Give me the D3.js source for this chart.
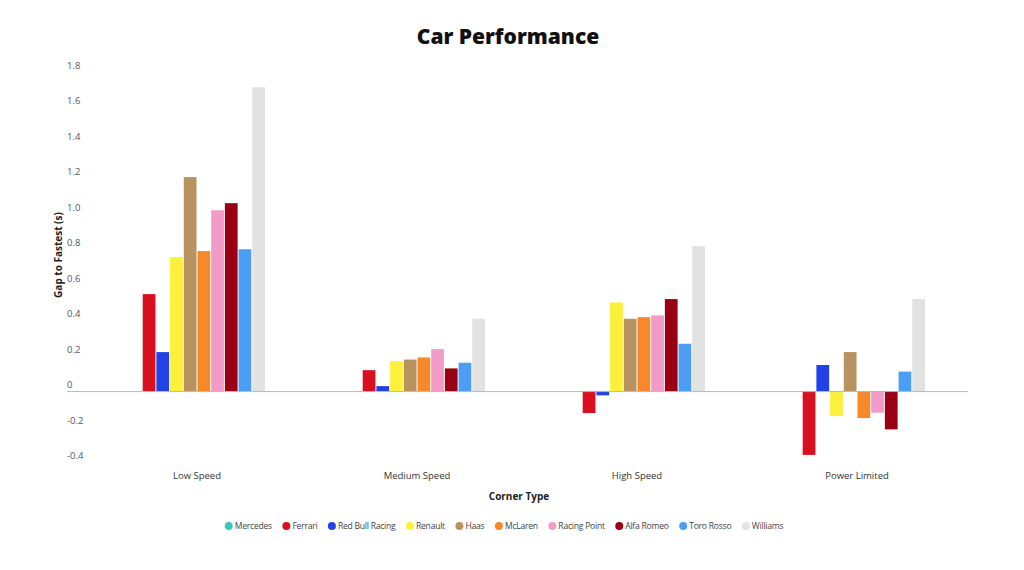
<!DOCTYPE html>
<html><head><meta charset="utf-8">
<script src="https://cdn.jsdelivr.net/npm/d3@7"></script>
<style>body{margin:0;background:#fff;} svg{display:block;font-family:"Open Sans",sans-serif;}</style>
</head><body><svg id="c" width="1024" height="570"></svg>
<script>
const categories = ["Low Speed", "Medium Speed", "High Speed", "Power Limited"];
const teams = ["Mercedes","Ferrari","Red Bull Racing","Renault","Haas","McLaren","Racing Point","Alfa Romeo","Toro Rosso","Williams"];
const colors = ["#3cc8b8","#d8101f","#2142e6","#fdf03a","#b8925f","#f7892a","#f29bc8","#9a0013","#4c9ef5","#e2e2e2"];
// values per team, in category order
const mercedes    = [0, 0, 0, 0];
const ferrari     = [0.547, 0.118, -0.124, -0.36];
const redBull     = [0.22, 0.028, -0.024, 0.147];
const renault     = [0.756, 0.169, 0.50, -0.141];
const haas        = [1.207, 0.178, 0.408, 0.22];
const mclaren     = [0.79, 0.19, 0.417, -0.152];
const racingPoint = [1.02, 0.237, 0.427, -0.122];
const alfaRomeo   = [1.06, 0.128, 0.519, -0.216];
const toroRosso   = [0.80, 0.16, 0.267, 0.11];
const williams    = [1.714, 0.408, 0.818, 0.52];
const series = [mercedes, ferrari, redBull, renault, haas, mclaren, racingPoint, alfaRomeo, toroRosso, williams];
const yTicks = [-0.4,-0.2,0,0.2,0.4,0.6,0.8,1.0,1.2,1.4,1.6,1.8];
const yTickLabels = ["-0.4","-0.2","0","0.2","0.4","0.6","0.8","1.0","1.2","1.4","1.6","1.8"];

const svg = d3.select("#c");
const x0 = d3.scaleBand().domain(categories).range([87, 967]).padding(0);
const groupW = 136;
const x1 = d3.scaleBand().domain(teams).range([0, groupW]).paddingInner(0.07).paddingOuter(0);
const y = d3.scaleLinear().domain([-0.4, 1.8]).range([462, 72]);

// title
svg.append("text").attr("x", 508).attr("y", 44).attr("text-anchor","middle")
  .attr("font-size", 21).attr("font-weight", 800).attr("fill", "#111").attr("letter-spacing", "0")
  .text("Car Performance");

// y tick labels
svg.append("g").selectAll("text").data(yTicks).join("text")
  .attr("x", 67).attr("y", d => y(d) - 3)
  .attr("font-size", 9.5).attr("fill", "#555")
  .text((d,i) => yTickLabels[i]);

// y title
svg.append("text").attr("transform", "translate(62,255) rotate(-90)")
  .attr("text-anchor","middle").attr("font-size", 10).attr("font-weight", 700).attr("fill","#222")
  .text("Gap to Fastest (s)");

// bars
const bars = [];
categories.forEach((c, ci) => teams.forEach((t, ti) => bars.push({c, t, v: series[ti][ci], col: colors[ti]})));
const off = (x0.bandwidth() - groupW) / 2;
svg.append("g").selectAll("rect").data(bars.filter(d => d.v !== 0)).join("rect")
  .attr("x", d => x0(d.c) + off + x1(d.t))
  .attr("width", x1.bandwidth())
  .attr("y", d => y(Math.max(0, d.v)))
  .attr("height", d => Math.abs(y(d.v) - y(0)))
  .attr("fill", d => d.col);

// zero line
svg.append("line").attr("x1", 67).attr("x2", 968).attr("y1", y(0)+0.5).attr("y2", y(0)+0.5)
  .attr("stroke", "#7ecfd6").attr("stroke-width", 1);

// x category labels
svg.append("g").selectAll("text").data(categories).join("text")
  .attr("x", d => x0(d) + x0.bandwidth()/2).attr("y", 479).attr("text-anchor","middle")
  .attr("font-size", 9.5).attr("fill","#333").text(d => d);

svg.append("text").attr("x", 519).attr("y", 500).attr("text-anchor","middle")
  .attr("font-size", 10).attr("font-weight", 700).attr("fill","#222").text("Corner Type");

// legend
const lg = svg.append("g");
let cx = 0;
teams.forEach((t, i) => {
  const g = lg.append("g").attr("transform", `translate(${cx},0)`);
  g.append("circle").attr("cx", 4).attr("cy", 0).attr("r", 4).attr("fill", colors[i]);
  const tx = g.append("text").attr("x", 10).attr("y", 3.2).attr("font-size", 8.6)
    .attr("letter-spacing", "-0.25").attr("fill","#444").text(t);
  cx += 10 + tx.node().getComputedTextLength() + 10.5;
});
const totalW = cx - 10.5;
lg.attr("transform", `translate(${504 - totalW/2},526)`);
</script></body></html>
